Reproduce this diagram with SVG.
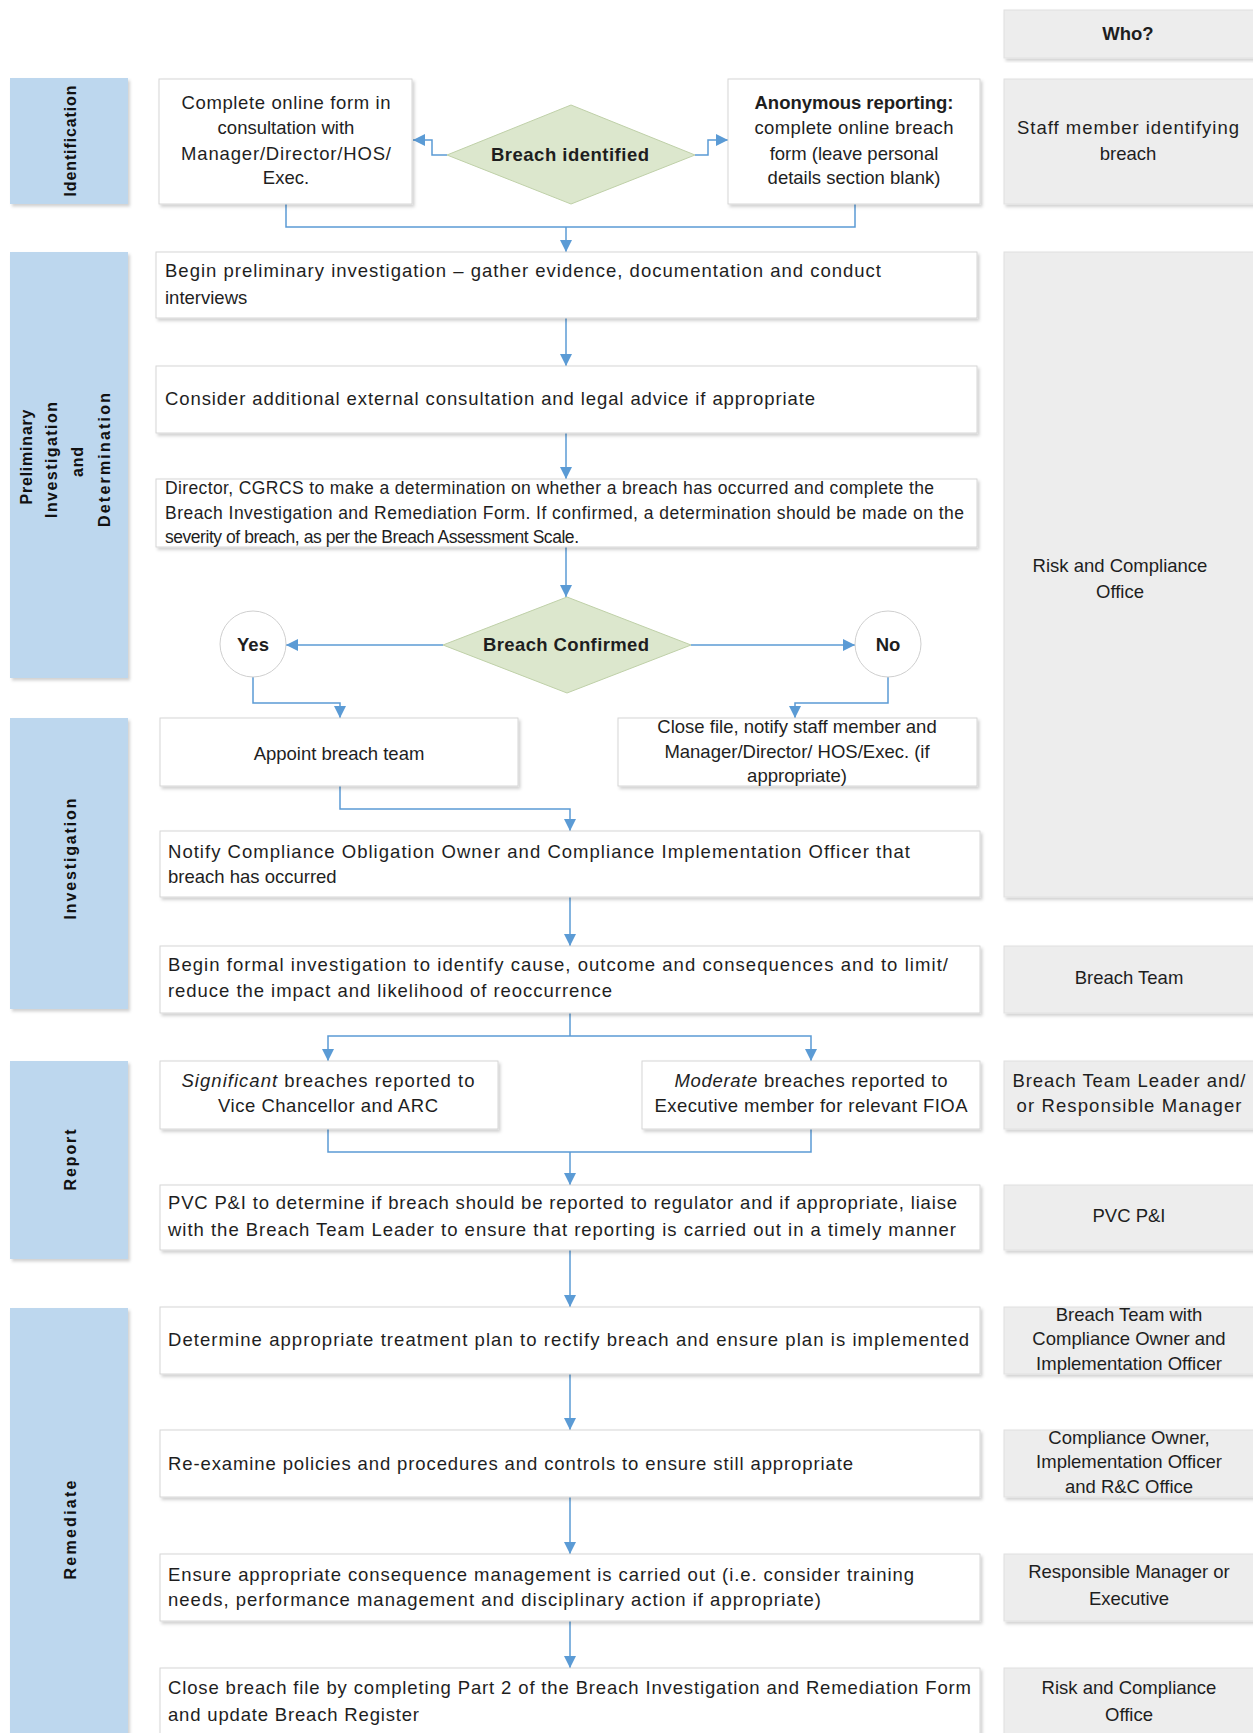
<svg xmlns="http://www.w3.org/2000/svg" width="1253" height="1733" viewBox="0 0 1253 1733">
<style>
.box{fill:#ffffff;stroke:#d6d6d6;stroke-width:1;filter:url(#sh)}
.lane{fill:#bdd7ee;filter:url(#sh)}
.who{fill:#ededed;stroke:#e0e0e0;stroke-width:1;filter:url(#sh)}
.dia{fill:#dce7cd;stroke:#bfd0a8;stroke-width:1}
.circ{fill:#ffffff;stroke:#cfcfcf;stroke-width:1}
.conn{fill:none;stroke:#5b9bd5;stroke-width:1.5}
.arr{marker-end:url(#ah)}
text{font-family:"Liberation Sans",Arial,sans-serif;font-size:18.5px;fill:#1e1e1e}
.c{text-anchor:middle}
.b{font-weight:bold}
.lt{font-weight:bold;font-size:16px;text-anchor:middle;fill:#111}
</style>
<defs>
<filter id="sh" x="-5%" y="-5%" width="110%" height="115%">
<feDropShadow dx="2" dy="2.5" stdDeviation="1.5" flood-color="#000" flood-opacity="0.18"/>
</filter>
<marker id="ah" viewBox="0 0 10 10" refX="10" refY="5" markerWidth="12" markerHeight="12" markerUnits="userSpaceOnUse" orient="auto">
<path d="M0,0 L10,5 L0,10 z" fill="#5b9bd5"/>
</marker>
</defs>
<rect width="1253" height="1733" fill="#ffffff"/>

<!-- Lanes -->
<g id="lane-identification">
<rect class="lane" x="10" y="78" width="118" height="126"/>
<text class="lt" transform="translate(70,141) rotate(-90)" y="6" textLength="111">Identification</text>
</g>
<g id="lane-preliminary">
<rect class="lane" x="10" y="252" width="118" height="426"/>
<text class="lt" transform="translate(26,457) rotate(-90)" y="6" textLength="95">Preliminary</text>
<text class="lt" transform="translate(51,460) rotate(-90)" y="6" textLength="116">Investigation</text>
<text class="lt" transform="translate(77,462) rotate(-90)" y="6" textLength="30">and</text>
<text class="lt" transform="translate(104,460) rotate(-90)" y="6" textLength="134">Determination</text>
</g>
<g id="lane-investigation">
<rect class="lane" x="10" y="718" width="118" height="291"/>
<text class="lt" transform="translate(70,859) rotate(-90)" y="6" textLength="121">Investigation</text>
</g>
<g id="lane-report">
<rect class="lane" x="10" y="1061" width="118" height="198"/>
<text class="lt" transform="translate(70,1160) rotate(-90)" y="6" textLength="61">Report</text>
</g>
<g id="lane-remediate">
<rect class="lane" x="10" y="1308" width="118" height="440"/>
<text class="lt" transform="translate(70,1530) rotate(-90)" y="6" textLength="99">Remediate</text>
</g>

<!-- Who column -->
<g id="who-header">
<rect class="who" x="1004" y="10" width="255" height="48"/>
<text class="c b" x="1128" y="40">Who?</text>
</g>
<g id="who-staff">
<rect class="who" x="1004" y="79" width="255" height="125"/>
<text class="c" x="1128" y="134" textLength="222">Staff member identifying</text>
<text class="c" x="1128" y="160">breach</text>
</g>
<g id="who-risk1">
<rect class="who" x="1004" y="252" width="255" height="645"/>
<text class="c" x="1120" y="572">Risk and Compliance</text>
<text class="c" x="1120" y="598">Office</text>
</g>
<g id="who-breachteam">
<rect class="who" x="1004" y="946" width="255" height="67"/>
<text class="c" x="1129" y="984">Breach Team</text>
</g>
<g id="who-btl">
<rect class="who" x="1004" y="1061" width="255" height="68"/>
<text class="c" x="1129" y="1087" textLength="233">Breach Team Leader and/</text>
<text class="c" x="1129" y="1112" textLength="225">or Responsible Manager</text>
</g>
<g id="who-pvc">
<rect class="who" x="1004" y="1185" width="255" height="65"/>
<text class="c" x="1129" y="1222">PVC P&amp;I</text>
</g>
<g id="who-btwith">
<rect class="who" x="1004" y="1307" width="255" height="67"/>
<text class="c" x="1129" y="1321">Breach Team with</text>
<text class="c" x="1129" y="1345">Compliance Owner and</text>
<text class="c" x="1129" y="1370">Implementation Officer</text>
</g>
<g id="who-co">
<rect class="who" x="1004" y="1430" width="255" height="67"/>
<text class="c" x="1129" y="1444">Compliance Owner,</text>
<text class="c" x="1129" y="1468">Implementation Officer</text>
<text class="c" x="1129" y="1493">and R&amp;C Office</text>
</g>
<g id="who-rm">
<rect class="who" x="1004" y="1554" width="255" height="67"/>
<text class="c" x="1129" y="1578">Responsible Manager or</text>
<text class="c" x="1129" y="1605">Executive</text>
</g>
<g id="who-risk2">
<rect class="who" x="1004" y="1668" width="255" height="80"/>
<text class="c" x="1129" y="1694">Risk and Compliance</text>
<text class="c" x="1129" y="1721">Office</text>
</g>

<!-- Connectors -->
<g id="connectors">
<path class="conn arr" d="M447,155 H432 V140 H413"/>
<path class="conn arr" d="M695,155 H708 V140 H728"/>
<path class="conn" d="M286,204 V227 H855 V204"/>
<path class="conn arr" d="M566,227 V252"/>
<path class="conn arr" d="M566,318 V366"/>
<path class="conn arr" d="M566,433 V479"/>
<path class="conn arr" d="M566,547 V597"/>
<path class="conn arr" d="M443,645 H286"/>
<path class="conn arr" d="M691,645 H855"/>
<path class="conn arr" d="M253,677 V703 H340 V718"/>
<path class="conn arr" d="M888,677 V703 H795 V718"/>
<path class="conn arr" d="M340,786 V809 H570 V831"/>
<path class="conn arr" d="M570,897 V946"/>
<path class="conn" d="M570,1013 V1036"/>
<path class="conn arr" d="M570,1036 H328 V1061"/>
<path class="conn arr" d="M570,1036 H811 V1061"/>
<path class="conn" d="M328,1129 V1152 H811 V1129"/>
<path class="conn arr" d="M570,1152 V1185"/>
<path class="conn arr" d="M570,1250 V1307"/>
<path class="conn arr" d="M570,1374 V1430"/>
<path class="conn arr" d="M570,1497 V1554"/>
<path class="conn arr" d="M570,1621 V1668"/>
</g>

<!-- Identification -->
<g id="n-complete-online">
<rect class="box" x="159" y="79" width="253" height="125"/>
<text class="c" x="286" y="109" textLength="209">Complete online form in</text>
<text class="c" x="286" y="134">consultation with</text>
<text class="c" x="286" y="160" textLength="210">Manager/Director/HOS/</text>
<text class="c" x="286" y="184">Exec.</text>
</g>
<g id="n-breach-identified">
<polygon class="dia" points="447,155 571,105 695,155 571,204"/>
<text class="c b" x="570" y="161" textLength="158">Breach identified</text>
</g>
<g id="n-anonymous">
<rect class="box" x="728" y="79" width="252" height="125"/>
<text class="c b" x="854" y="109" textLength="199">Anonymous reporting:</text>
<text class="c" x="854" y="134" textLength="199">complete online breach</text>
<text class="c" x="854" y="160">form (leave personal</text>
<text class="c" x="854" y="184">details section blank)</text>
</g>

<!-- Preliminary -->
<g id="n-begin-prelim">
<rect class="box" x="156" y="252" width="821" height="66"/>
<text x="165" y="277" textLength="716">Begin preliminary investigation – gather evidence, documentation and conduct</text>
<text x="165" y="304">interviews</text>
</g>
<g id="n-consider">
<rect class="box" x="156" y="366" width="821" height="67"/>
<text x="165" y="405" textLength="650">Consider additional external consultation and legal advice if appropriate</text>
</g>
<g id="n-director">
<rect class="box" x="156" y="479" width="821" height="68"/>
<text x="165" y="494" textLength="769" style="font-size:17.5px">Director, CGRCS to make a determination on whether a breach has occurred and complete the</text>
<text x="165" y="519" textLength="799" style="font-size:17.5px">Breach Investigation and Remediation Form. If confirmed, a determination should be made on the</text>
<text x="165" y="543" textLength="414" style="font-size:17.5px">severity of breach, as per the Breach Assessment Scale.</text>
</g>
<g id="n-breach-confirmed">
<polygon class="dia" points="443,645 567,597 691,645 567,693"/>
<text class="c b" x="566" y="651" textLength="166">Breach Confirmed</text>
</g>
<g id="n-yes">
<ellipse class="circ" cx="253" cy="644" rx="33" ry="33"/>
<text class="c b" x="253" y="651">Yes</text>
</g>
<g id="n-no">
<ellipse class="circ" cx="888" cy="644" rx="33" ry="33"/>
<text class="c b" x="888" y="651">No</text>
</g>

<!-- Investigation -->
<g id="n-appoint">
<rect class="box" x="160" y="718" width="358" height="68"/>
<text class="c" x="339" y="760">Appoint breach team</text>
</g>
<g id="n-close-file">
<rect class="box" x="618" y="718" width="359" height="68"/>
<text class="c" x="797" y="733">Close file, notify staff member and</text>
<text class="c" x="797" y="758">Manager/Director/ HOS/Exec. (if</text>
<text class="c" x="797" y="782">appropriate)</text>
</g>
<g id="n-notify">
<rect class="box" x="160" y="831" width="820" height="66"/>
<text x="168" y="858" textLength="742">Notify Compliance Obligation Owner and Compliance Implementation Officer that</text>
<text x="168" y="883">breach has occurred</text>
</g>
<g id="n-begin-formal">
<rect class="box" x="160" y="946" width="820" height="67"/>
<text x="168" y="971" textLength="780">Begin formal investigation to identify cause, outcome and consequences and to limit/</text>
<text x="168" y="997" textLength="444">reduce the impact and likelihood of reoccurrence</text>
</g>

<!-- Report -->
<g id="n-significant">
<rect class="box" x="160" y="1061" width="338" height="68"/>
<text class="c" x="328" y="1087" textLength="293"><tspan font-style="italic">Significant</tspan> breaches reported to</text>
<text class="c" x="328" y="1112" textLength="220">Vice Chancellor and ARC</text>
</g>
<g id="n-moderate">
<rect class="box" x="642" y="1061" width="338" height="68"/>
<text class="c" x="811" y="1087" textLength="273"><tspan font-style="italic">Moderate</tspan> breaches reported to</text>
<text class="c" x="811" y="1112" textLength="313">Executive member for relevant FIOA</text>
</g>
<g id="n-pvc">
<rect class="box" x="160" y="1185" width="820" height="65"/>
<text x="168" y="1209" textLength="789">PVC P&amp;I to determine if breach should be reported to regulator and if appropriate, liaise</text>
<text x="168" y="1236" textLength="788">with the Breach Team Leader to ensure that reporting is carried out in a timely manner</text>
</g>

<!-- Remediate -->
<g id="n-determine">
<rect class="box" x="160" y="1307" width="820" height="67"/>
<text x="168" y="1346" textLength="801">Determine appropriate treatment plan to rectify breach and ensure plan is implemented</text>
</g>
<g id="n-reexamine">
<rect class="box" x="160" y="1430" width="820" height="67"/>
<text x="168" y="1470" textLength="685">Re-examine policies and procedures and controls to ensure still appropriate</text>
</g>
<g id="n-ensure">
<rect class="box" x="160" y="1554" width="820" height="67"/>
<text x="168" y="1581" textLength="746">Ensure appropriate consequence management is carried out (i.e. consider training</text>
<text x="168" y="1606" textLength="653">needs, performance management and disciplinary action if appropriate)</text>
</g>
<g id="n-close-breach">
<rect class="box" x="160" y="1668" width="820" height="80"/>
<text x="168" y="1694" textLength="803">Close breach file by completing Part 2 of the Breach Investigation and Remediation Form</text>
<text x="168" y="1721" textLength="251">and update Breach Register</text>
</g>
</svg>
